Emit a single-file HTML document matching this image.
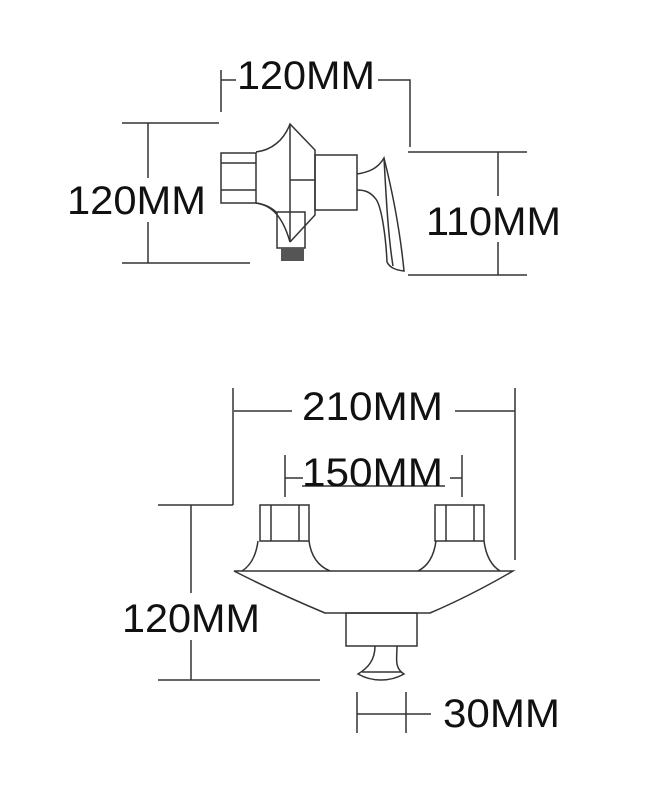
<!DOCTYPE html>
<html><head><meta charset="utf-8"><style>
html,body{margin:0;padding:0;background:#fff}
svg{display:block}
text{font-family:"Liberation Sans",sans-serif;fill:#111;font-size:40px}
</style></head><body>
<svg width="659" height="800" viewBox="0 0 659 800" xmlns="http://www.w3.org/2000/svg">
<g fill="none" stroke="#333" stroke-width="1.5">
<path d="M221 70V112M221 80H236M378 80H410V147"/>
<path d="M122 123H219M122 263H250M148 123V178M148 222V263"/>
<path d="M408 152H527M408 275H527M498 152V196M498 242V275"/>
<rect x="221" y="153" width="35" height="50"/>
<path d="M221 163H256M221 190H256"/>
<path d="M256 203C270 205 284 212 290 242"/>
<rect x="277" y="212" width="28" height="36" fill="#fff"/>
<path d="M256 203C270 205 282 214 290 242"/>
<path d="M256 152C272 150 284 140 290 124L315 150V215L290 242"/>
<path d="M290 124V242M290 180H315"/>
<rect x="315" y="155" width="42" height="55"/>
<path d="M357 174C370 172 378 168 384 158C392 190 400 230 404 271C396 270 390 268 387 262C386 240 382 205 375 198C370 192 365 190 357 190"/>
<path d="M384 158C386 195 388 235 393 266"/>
</g>
<rect x="281" y="248" width="23" height="13" fill="#555"/>
<g fill="none" stroke="#333" stroke-width="1.5">
<path d="M233 388V505M234 411H292M455 411H515M515 388V560"/>
<path d="M285 455V497M462 455V497M285 478H303M450 478H462M302 486H445"/>
<path d="M158 505H233M191 505V593M191 640V680M158 680H320"/>
<path d="M357 692V733M406 692V733M357 714H431"/>
<rect x="260" y="505" width="49" height="36"/>
<path d="M271 505V541M299 505V541"/>
<rect x="435" y="505" width="49" height="36"/>
<path d="M446 505V541M474 505V541"/>
<path d="M258 541C256 556 250 566 242 571M309 541C311 556 318 566 330 571"/>
<path d="M436 541C434 556 428 566 418 571M484 541C486 556 492 566 500 571"/>
<path d="M234 571H513Q470 596 430 613H325Q275 592 234 571Z"/>
<rect x="346" y="613" width="71" height="33"/>
<path d="M375 646C375 660 368 668 358 674C372 682 390 682 404 674C394 668 397 658 397 646"/>
<path d="M362 672H401"/>
</g>
<text x="237" y="89" textLength="138" lengthAdjust="spacingAndGlyphs">120MM</text>
<text x="67" y="214" textLength="139" lengthAdjust="spacingAndGlyphs">120MM</text>
<text x="426" y="235" textLength="135" lengthAdjust="spacingAndGlyphs">110MM</text>
<text x="302" y="420" textLength="141" lengthAdjust="spacingAndGlyphs">210MM</text>
<text x="302" y="486" textLength="141" lengthAdjust="spacingAndGlyphs">150MM</text>
<text x="122" y="632" textLength="138" lengthAdjust="spacingAndGlyphs">120MM</text>
<text x="443" y="727" textLength="117" lengthAdjust="spacingAndGlyphs">30MM</text>
</svg>
</body></html>
